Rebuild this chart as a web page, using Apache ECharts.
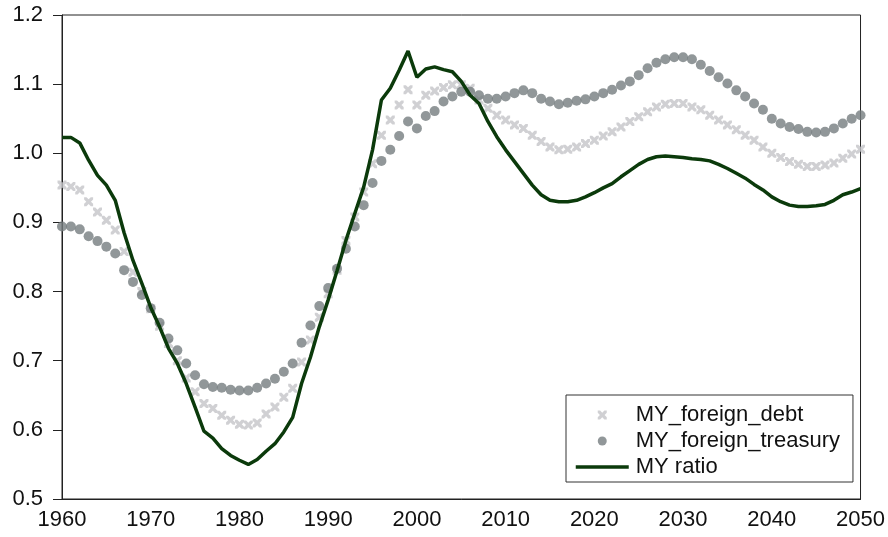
<!DOCTYPE html>
<html>
<head>
<meta charset="utf-8">
<script src="https://cdn.jsdelivr.net/npm/echarts@6/dist/echarts.min.js"></script>
<style>
html,body{margin:0;padding:0;background:#fff;}
#chart{width:888px;height:537px;}
</style>
</head>
<body>
<div id="chart"></div>
<script>
const startYear = 1960;
const endYear = 2050;
const xTicks = [1960, 1970, 1980, 1990, 2000, 2010, 2020, 2030, 2040, 2050];
const yTicks = [0.5, 0.6, 0.7, 0.8, 0.9, 1.0, 1.1, 1.2];

const seriesNames = ['MY_foreign_debt', 'MY_foreign_treasury', 'MY ratio'];

const foreignDebt = [
  0.954, 0.952, 0.947, 0.930, 0.915, 0.903, 0.889, 0.858, 0.828, 0.800,
  0.775, 0.750, 0.725, 0.700, 0.675, 0.655, 0.638, 0.631, 0.621, 0.614,
  0.608, 0.607, 0.610, 0.623, 0.633, 0.647, 0.660, 0.698, 0.730, 0.763,
  0.797, 0.831, 0.874, 0.908, 0.944, 0.985, 1.026, 1.048, 1.070, 1.092,
  1.070, 1.084, 1.090, 1.095, 1.099, 1.099, 1.094, 1.077, 1.065, 1.055,
  1.048, 1.041, 1.036, 1.026, 1.017, 1.009, 1.005, 1.006, 1.009, 1.014,
  1.019, 1.025, 1.031, 1.038, 1.046, 1.053, 1.060, 1.067, 1.071, 1.072,
  1.072, 1.067, 1.063, 1.055, 1.048, 1.041, 1.034, 1.026, 1.019, 1.009,
  1.000, 0.994, 0.988, 0.984, 0.981, 0.981, 0.983, 0.986, 0.993, 0.999,
  1.006
];

const foreignTreasury = [
  0.894, 0.894, 0.890, 0.880, 0.873, 0.865, 0.855, 0.831, 0.814, 0.795,
  0.776, 0.755, 0.732, 0.715, 0.696, 0.679, 0.666, 0.662, 0.661, 0.658,
  0.657, 0.657, 0.661, 0.667, 0.674, 0.684, 0.696, 0.726, 0.751, 0.779,
  0.805, 0.833, 0.862, 0.894, 0.925, 0.957, 0.989, 1.005, 1.025, 1.046,
  1.036, 1.054, 1.061, 1.075, 1.082, 1.089, 1.089, 1.084, 1.079, 1.079,
  1.082, 1.087, 1.091, 1.087, 1.079, 1.075, 1.071, 1.073, 1.076, 1.078,
  1.082, 1.087, 1.092, 1.098, 1.104, 1.113, 1.123, 1.131, 1.136, 1.139,
  1.139, 1.136, 1.128, 1.119, 1.110, 1.101, 1.091, 1.082, 1.072, 1.063,
  1.050, 1.043, 1.038, 1.035, 1.031, 1.030, 1.031, 1.036, 1.043, 1.050,
  1.055
];

const myRatio = [
  1.023, 1.023, 1.015, 0.990, 0.968, 0.954, 0.932, 0.885, 0.845, 0.812,
  0.777, 0.749, 0.718, 0.696, 0.667, 0.633, 0.598, 0.588, 0.573, 0.563,
  0.556, 0.550, 0.557, 0.569, 0.580, 0.597, 0.618, 0.667, 0.705, 0.749,
  0.788, 0.830, 0.874, 0.913, 0.951, 1.005, 1.077, 1.094, 1.120, 1.148,
  1.110, 1.122, 1.125, 1.121, 1.118, 1.104, 1.084, 1.072, 1.046, 1.024,
  1.005, 0.988, 0.971, 0.954, 0.940, 0.932, 0.930, 0.930, 0.932, 0.937,
  0.943, 0.950, 0.956, 0.966, 0.975, 0.984, 0.991, 0.995, 0.996, 0.995,
  0.994, 0.992, 0.991, 0.989, 0.984, 0.978, 0.971, 0.964, 0.955, 0.947,
  0.937, 0.930, 0.925, 0.923, 0.923, 0.924, 0.926, 0.932, 0.940, 0.944,
  0.949
];

function pairs(values) {
  return values.map((v, i) => [startYear + i, v]);
}

const crossPath = 'path://M0,0 L2.6,0 L5,2.4 L7.4,0 L10,0 L10,2.6 L7.6,5 L10,7.4 L10,10 L7.4,10 L5,7.6 L2.6,10 L0,10 L0,7.4 L2.4,5 L0,2.6 Z';
const fontFam = '"Liberation Sans", Arial, sans-serif';
const ratioColor = '#0b3a0b';

const chart = echarts.init(document.getElementById('chart'), null, {renderer: 'canvas'});
chart.setOption({
  animation: false,
  backgroundColor: '#ffffff',
  grid: {
    left: 62, right: 25, top: 15, bottom: 38,
    show: true, borderColor: '#222', borderWidth: 1, backgroundColor: 'transparent'
  },
  legend: {
    orient: 'vertical',
    left: 566, top: 395,
    padding: [8, 13, 3, 8],
    itemWidth: 53, itemHeight: 9, itemGap: 2,
    borderColor: '#333', borderWidth: 1,
    backgroundColor: '#fff',
    lineStyle: {width: 3.5},
    data: [
      {name: seriesNames[0]},
      {name: seriesNames[1]},
      {name: seriesNames[2], itemStyle: {color: 'rgba(0,0,0,0)', borderWidth: 0, opacity: 0},
       lineStyle: {width: 3.5, color: ratioColor}}
    ],
    textStyle: {fontFamily: fontFam, fontSize: 22, color: '#111', lineHeight: 24, padding: [0, 0, 0, 2]}
  },
  xAxis: {
    type: 'value', min: 1960, max: 2050, interval: 10,
    axisLine: {show: true, lineStyle: {color: '#222', width: 1}},
    axisTick: {show: false},
    splitLine: {show: false},
    axisLabel: {
      fontFamily: fontFam, fontSize: 22, color: '#111', margin: 10,
      formatter: v => (xTicks.indexOf(v) >= 0 ? String(v) : '')
    }
  },
  yAxis: {
    type: 'value', min: 0.5, max: 1.2, interval: 0.1,
    axisLine: {show: true, lineStyle: {color: '#222', width: 1}},
    axisTick: {show: true, inside: false, length: 9, lineStyle: {color: '#222'}},
    splitLine: {show: false},
    axisLabel: {
      fontFamily: fontFam, fontSize: 22, color: '#111', margin: 19,
      formatter: v => {
        const t = yTicks.find(y => Math.abs(y - v) < 1e-6);
        return t === undefined ? '' : t.toFixed(1);
      }
    }
  },
  series: [
    {
      name: seriesNames[0], type: 'scatter', data: pairs(foreignDebt),
      symbol: crossPath, symbolSize: 9, symbolKeepAspect: true,
      itemStyle: {color: '#c4c4c8'}, z: 2
    },
    {
      name: seriesNames[1], type: 'scatter', data: pairs(foreignTreasury),
      symbol: 'circle', symbolSize: 10, symbolKeepAspect: true,
      itemStyle: {color: '#767d80'}, z: 3
    },
    {
      name: seriesNames[2], type: 'line', data: pairs(myRatio),
      symbol: 'none', showSymbol: false,
      lineStyle: {color: ratioColor, width: 3.5},
      itemStyle: {color: ratioColor}, z: 4
    }
  ]
});
</script>
</body>
</html>
